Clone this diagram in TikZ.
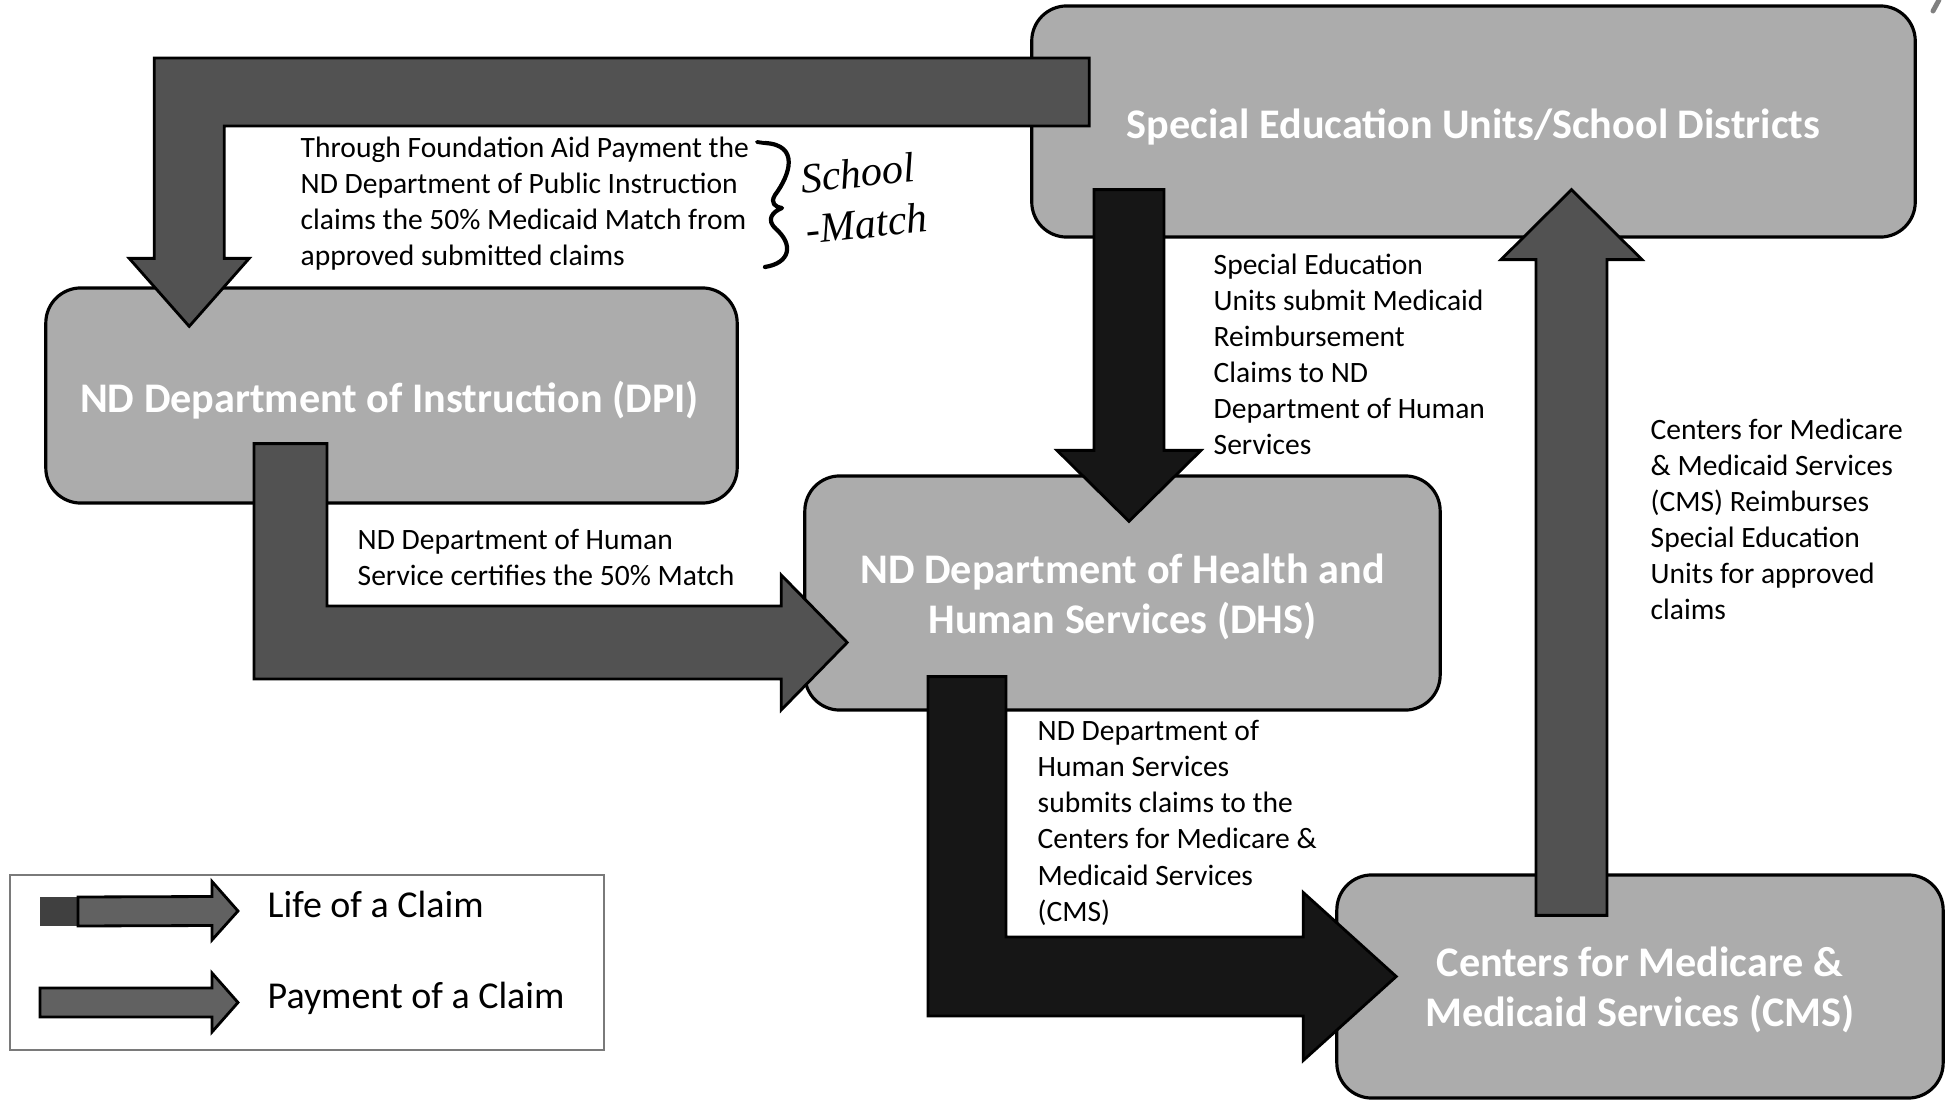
\documentclass[tikz,border=0pt]{standalone}
\usepackage{fontspec}
\setmainfont{Carlito}
\newfontfamily\handfont{Liberation Serif}
\usetikzlibrary{calc}
\definecolor{boxgray}{HTML}{ACACAC}
\definecolor{paygray}{HTML}{525252}
\definecolor{lifeblack}{HTML}{161616}
\definecolor{legendgray}{HTML}{7A7A7A}

\begin{document}
\begin{tikzpicture}[x=0.01cm,y=-0.01cm,
  unitbox/.style={draw=black, line width=0.9pt, fill=boxgray, rounded corners=0.35cm,
    inner sep=0pt},
  unitlabel/.style={inner sep=0pt, text=white, align=center,
    font=\fontsize{12}{14.2}\selectfont\bfseries},
  payarrow/.style={draw=black, line width=0.8pt, fill=paygray, line join=miter},
  lifearrow/.style={draw=black, line width=0.8pt, fill=lifeblack, line join=miter},
  note/.style={font=\fontsize{8.4}{10.24}\selectfont, align=left, anchor=north west, inner sep=0pt},
  legendtext/.style={font=\fontsize{10.8}{13}\selectfont, anchor=base west, inner sep=0pt},
  handwriting/.style={font=\fontsize{12}{14.6}\selectfont\handfont\itshape, inner sep=0pt,
    align=left}
]
\useasboundingbox (0,0) rectangle (1950,1100);
\fill[white] (0,0) rectangle (1950,1100);

% ---------- the four agencies ----------
\node[unitbox, minimum width=8.83cm, minimum height=2.31cm] (seu) at (1473.5,121.5) {};
\node[unitbox, minimum width=6.91cm, minimum height=2.15cm] (dpi) at (391.5,395.5) {};
\node[unitbox, minimum width=6.35cm, minimum height=2.34cm] (dhs) at (1122.5,593) {};
\node[unitbox, minimum width=6.06cm, minimum height=2.23cm] (cms) at (1640,986.5) {};

% ---------- block arrows: tails and tips ----------
\coordinate (pay1tail) at ($(seu.west)+(59,-29.5)$);
\coordinate (pay1tip)  at ($(dpi.north west)+(145,40)$);
\coordinate (pay2tail) at ($(dpi.south)+(-101,-61)$);
\coordinate (pay2tip)  at ($(dhs.west)+(44,49.5)$);
\coordinate (life1tail) at ($(seu.south)+(-344.5,-49)$);
\coordinate (life1tip)  at ($(dhs.north)+(6.5,47)$);
\coordinate (life2tail) at ($(dhs.south)+(-155.5,-35)$);
\coordinate (life2tip)  at ($(cms.west)+(61,-10)$);
\coordinate (pay3tail) at ($(cms.north)+(-68.5,42)$);
\coordinate (pay3tip)  at ($(seu.south)+(98,-49)$);

% school districts -> DPI (payment)
\draw[payarrow] ($(pay1tail)+(0,-34)$) -| ($(pay1tip)+(-35,-68)$) -- ++(-25,0)
  -- (pay1tip) -- ++(60,-68) -- ++(-25,0) |- ($(pay1tail)+(0,34)$) -- cycle;

% DPI -> DHS (payment)
\draw[payarrow] ($(pay2tail)+(-36.5,0)$) |- ($(pay2tip)+(-66,36.5)$) -- ++(0,31)
  -- (pay2tip) -- ++(-66,-67.5) -- ++(0,31) -| ($(pay2tail)+(36.5,0)$) -- cycle;

% school districts -> DHS (life of a claim)
\draw[lifearrow] ($(life1tail)+(-35,0)$) -- ($(life1tip)+(-35,-71)$) -- ++(-37,0)
  -- (life1tip) -- ++(72,-71) -- ++(-37,0) -- ($(life1tail)+(35,0)$) -- cycle;

% DHS -> CMS (life of a claim)
\draw[lifearrow] ($(life2tail)+(-39,0)$) |- ($(life2tip)+(-93,39.5)$) -- ++(0,44.5)
  -- (life2tip) -- ++(-93,-84) -- ++(0,44.5) -| ($(life2tail)+(39,0)$) -- cycle;

% CMS -> school districts (payment)
\draw[payarrow] ($(pay3tail)+(-35.5,0)$) -- ($(pay3tip)+(-35.5,70)$) -- ++(-35,0)
  -- (pay3tip) -- ++(70.5,70) -- ++(-35,0) -- ($(pay3tail)+(35.5,0)$) -- cycle;

% ---------- agency names ----------
\node[unitlabel] (seutext) at ($(seu.center)+(0,5)$) {Special Education Units/School Districts};
\node[unitlabel] (dpitext) at ($(dpi.center)+(-2,5)$) {ND Department of Instruction (DPI)};
\node[unitlabel] (dhstext) at ($(dhs.center)+(0,3.5)$) {ND Department of Health and\\Human Services (DHS)};
\node[unitlabel] (cmstext) at ($(cms.center)+(0,3.5)$) {Centers for Medicare \&\\Medicaid Services (CMS)};

% ---------- explanatory notes ----------
\node[note] (n1) at (300,136) {Through Foundation Aid Payment the\\ND Department of Public Instruction\\claims the 50\% Medicaid Match from\\approved submitted claims};
\node[note] (n2) at (357,529) {ND Department of Human\\Service certifies the 50\% Match};
\node[note] (n3) at (1213,253) {Special Education\\Units submit Medicaid\\Reimbursement\\Claims to ND\\Department of Human\\Services};
\node[note] (n4) at (1650,418) {Centers for Medicare\\\& Medicaid Services\\(CMS) Reimburses\\Special Education\\Units for approved\\claims};
\node[note] (n5) at (1037,720) {ND Department of\\Human Services\\submits claims to the\\Centers for Medicare \&\\Medicaid Services\\(CMS)};

% ---------- pencil annotation ----------
\draw[line width=1.1pt, line cap=round] (757,142) -- (764,143);
\draw[line width=1.2pt, line cap=round, line join=round]
  (765,143) .. controls (800,145) and (790,175) .. (775,195)
  .. controls (770,203) and (775,207) .. (782,208)
  .. controls (772,212) and (766,220) .. (776,229)
  .. controls (794,245) and (790,263) .. (765,267);
\node[handwriting, rotate=6, anchor=center] (hw) at (864,198) {School\\-Match};
\draw[gray, line width=1.4pt, line cap=round] (1939,0) -- (1933,11);

% ---------- legend ----------
\node[draw=legendgray, line width=0.7pt, minimum width=5.94cm, minimum height=1.75cm,
  inner sep=0pt] (legend) at (307,962.5) {};
\node[legendtext] (lifelabel) at (267,917) {Life of a Claim};
\node[legendtext] (paylabel) at (267,1008) {Payment of a Claim};
\coordinate (leg1tip) at ($(lifelabel.base west)+(-29,-6)$);
\coordinate (leg2tip) at ($(paylabel.base west)+(-29,-5.5)$);
\fill[black!75] (40,897) rectangle (78,926);
\draw[payarrow, fill=black!62] (78,897) -- ($(leg1tip)+(-26,-14.5)$) -- ++(0,-15) -- (leg1tip)
  -- ++(-26,29) -- ++(0,-14.5) -- (78,926) -- cycle;
\draw[payarrow, fill=black!62] (40,988) -- ($(leg2tip)+(-26,-14.5)$) -- ++(0,-15) -- (leg2tip)
  -- ++(-26,29.5) -- ++(0,-15) -- (40,1017) -- cycle;
\end{tikzpicture}
\end{document}
